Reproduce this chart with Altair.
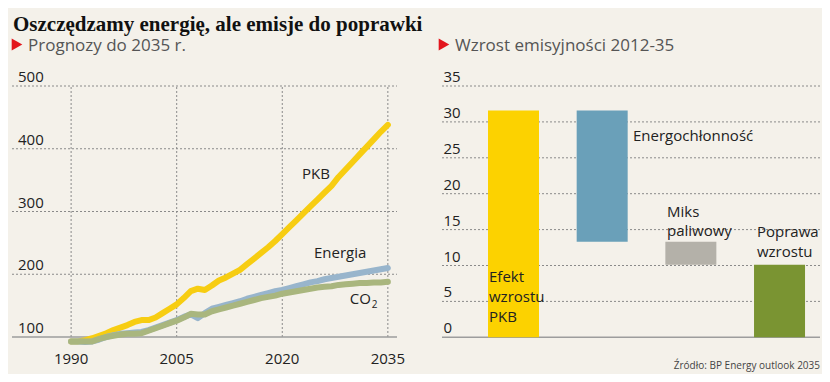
import altair as alt
import pandas as pd

# ---------------- data ----------------
years = list(range(1990, 2036))
pkb = [93, 93, 95, 98, 102, 106, 111, 115, 119, 124,
       127, 127, 131, 138, 145, 152, 162, 173, 177, 175,
       182, 190, 195, 201, 207, 216, 225, 234, 243, 253,
       264, 275, 286, 297, 308, 319, 330, 341, 355, 367,
       379, 391, 403, 415, 427, 438]
energia = [93, 93, 92, 93, 96, 100, 103, 105, 106, 107,
           108, 111, 115, 119, 123, 127, 132, 136, 130, 138,
           145, 148, 151, 154, 157, 161, 164, 167, 170, 173,
           175, 178, 181, 184, 187, 189, 192, 194, 196, 198,
           200, 202, 204, 206, 208, 210]
co2 = [93, 93, 93, 93, 97, 100, 102, 104, 105, 105,
       106, 110, 114, 118, 122, 126, 131, 137, 136, 136,
       141, 144, 147, 150, 153, 156, 159, 162, 164, 166,
       169, 171, 173, 175, 177, 179, 180, 181, 183, 184,
       185, 186, 186, 187, 187, 188]

left_y_ticks = [100, 200, 300, 400, 500]
left_x_ticks = [1990, 2005, 2020, 2035]

bar_names = ["Efekt wzrostu PKB", "Energochłonność", "Miks paliwowy", "Poprawa wzrostu"]
bar_idx = [1, 2, 3, 4]
bar_start = [0, 31.6, 13.3, 0]
bar_end = [31.6, 13.3, 10.1, 10.1]
bar_colors = ["#fcd200", "#6aa0b9", "#b4b1a9", "#7a9432"]

right_y_ticks = [0, 5, 10, 15, 20, 25, 30, 35]

FONT = "Open Sans"
GRID = "#8a8a8a"
BASE = "#9d9d9d"

# ---------------- scales ----------------
xL = alt.Scale(domain=[1981.6, 2036.3], range=[4, 389], nice=False, zero=False)
yL = alt.Scale(domain=[100, 500], range=[329, 78], nice=False, zero=False)
xR = alt.Scale(domain=[0.25, 4.4], range=[434, 812], nice=False, zero=False)
yR = alt.Scale(domain=[0, 35], range=[329.3, 78], nice=False, zero=False)

df_lines = pd.DataFrame({"year": years, "pkb": pkb, "energia": energia, "co2": co2})
df_ly = pd.DataFrame({"v": left_y_ticks})
df_lgrid = pd.DataFrame({"v": left_y_ticks[1:]})
df_lx = pd.DataFrame({"year": left_x_ticks})
df_bars = pd.DataFrame({"name": bar_names, "idx": bar_idx, "start": bar_start, "end": bar_end})
df_ry = pd.DataFrame({"v": right_y_ticks})
df_rgrid = pd.DataFrame({"v": right_y_ticks[1:]})
one = pd.DataFrame({"a": [0]})

layers = []

# ---------- left chart ----------
layers.append(alt.Chart(df_lgrid).mark_rule(color=GRID, strokeDash=[2, 2], strokeWidth=1).encode(
    y=alt.Y("v:Q", scale=yL, axis=None),
    x=alt.XDatum(1981.6, scale=xL, type="quantitative", axis=None),
    x2=alt.X2Datum(2036.3)))
layers.append(alt.Chart(df_lx).mark_rule(color=GRID, strokeDash=[2, 2], strokeWidth=1).encode(
    x=alt.X("year:Q", scale=xL, axis=None),
    y=alt.YDatum(100, scale=yL, type="quantitative", axis=None),
    y2=alt.Y2Datum(500)))
layers.append(alt.Chart(one).mark_rule(color=BASE, strokeWidth=1.5).encode(
    y=alt.YDatum(100, scale=yL, type="quantitative", axis=None),
    x=alt.XDatum(1981.6, scale=xL, type="quantitative", axis=None),
    x2=alt.X2Datum(2036.3)))

for col, colr in [("pkb", "#f7cd12"), ("energia", "#98b5cc"), ("co2", "#a9b67e")]:
    layers.append(alt.Chart(df_lines).mark_line(color=colr, strokeWidth=6, strokeCap="round",
                                                 strokeJoin="round").encode(
        x=alt.X("year:Q", scale=xL, axis=None),
        y=alt.Y(f"{col}:Q", scale=yL, axis=None)))

layers.append(alt.Chart(df_ly).mark_text(align="left", baseline="alphabetic", dy=-4, font=FONT,
                                          fontSize=15, color="#222").encode(
    x=alt.value(10), y=alt.Y("v:Q", scale=yL, axis=None), text="v:Q"))
layers.append(alt.Chart(df_lx).mark_text(align="center", baseline="alphabetic", font=FONT,
                                          fontSize=15, color="#222").encode(
    x=alt.X("year:Q", scale=xL, axis=None), y=alt.value(356), text="year:Q"))


def ltext(txt, xv, yv, **kw):
    return alt.Chart(one).mark_text(text=txt, align="left", baseline="alphabetic", font=FONT,
                                     fontSize=kw.pop("fontSize", 15), color="#222", **kw).encode(
        x=alt.XDatum(xv, scale=xL, type="quantitative", axis=None),
        y=alt.YDatum(yv, scale=yL, type="quantitative", axis=None))


layers.append(ltext("PKB", 2022.8, 352))
layers.append(ltext("Energia", 2024.5, 226))
layers.append(ltext("CO", 2029.6, 153))
layers.append(ltext("2", 2029.6, 153, dx=22, dy=4, fontSize=10))

# ---------- right chart ----------
layers.append(alt.Chart(df_rgrid).mark_rule(color=GRID, strokeDash=[2, 2], strokeWidth=1).encode(
    y=alt.Y("v:Q", scale=yR, axis=None),
    x=alt.XDatum(0.25, scale=xR, type="quantitative", axis=None),
    x2=alt.X2Datum(4.4)))
layers.append(alt.Chart(one).mark_rule(color=BASE, strokeWidth=1.5).encode(
    y=alt.YDatum(0, scale=yR, type="quantitative", axis=None),
    x=alt.XDatum(0.25, scale=xR, type="quantitative", axis=None),
    x2=alt.X2Datum(4.4)))
layers.append(alt.Chart(df_bars).mark_bar(size=51).encode(
    x=alt.X("idx:Q", scale=xR, axis=None),
    y=alt.Y("start:Q", scale=yR, axis=None),
    y2="end:Q",
    color=alt.Color("name:N", scale=alt.Scale(domain=bar_names, range=bar_colors), legend=None)))
layers.append(alt.Chart(df_ry).mark_text(align="left", baseline="alphabetic", dy=-4, font=FONT,
                                          fontSize=15, color="#222").encode(
    x=alt.value(435.5), y=alt.Y("v:Q", scale=yR, axis=None), text="v:Q"))


def rtext(txt, xv, yv, lh=19.8):
    return alt.Chart(one).mark_text(text=txt, align="left", baseline="alphabetic", font=FONT,
                                     fontSize=15, color="#222", lineHeight=lh).encode(
        x=alt.XDatum(xv, scale=xR, type="quantitative", axis=None),
        y=alt.YDatum(yv, scale=yR, type="quantitative", axis=None))


layers.append(rtext("Energochłonność", 2.347, 27.4))
layers.append(rtext(["Miks", "paliwowy"], 2.72, 16.8))
layers.append(rtext(["Poprawa", "wzrostu"], 3.708, 14.0, lh=20))
layers.append(rtext(["Efekt", "wzrostu", "PKB"], 0.766, 7.7))

# ---------- titles ----------
layers.append(alt.Chart(one).mark_text(text="Oszczędzamy energię, ale emisje do poprawki", align="left",
                                        baseline="alphabetic", font="Liberation Serif", fontWeight="bold",
                                        fontSize=21, color="#111").encode(
    x=alt.value(5), y=alt.value(23)))
for tx, title in [(20, "Prognozy do 2035 r."), (447, "Wzrost emisyjności 2012-35")]:
    layers.append(alt.Chart(one).mark_point(shape="triangle-right", filled=True, size=150,
                                             color="#e3161d", opacity=1).encode(
        x=alt.value(tx - 11), y=alt.value(36.5)))
    layers.append(alt.Chart(one).mark_text(text=title, align="left", baseline="alphabetic", font=FONT,
                                            fontSize=17, color="#555").encode(
        x=alt.value(tx), y=alt.value(42.5)))

layers.append(alt.Chart(one).mark_text(text="Źródło: BP Energy outlook 2035", align="right",
                                        baseline="alphabetic", font=FONT, fontSize=10,
                                        color="#444").encode(
    x=alt.value(812), y=alt.value(361)))

chart = alt.layer(*layers).resolve_scale(x="independent", y="independent", color="independent").properties(
    width=814, height=366, padding=0,
    autosize=alt.AutoSizeParams(type="none"),
    background="#f4f1ea",
).configure_view(stroke=None)

chart.save("out.html", embed_options={"renderer": "svg", "actions": False})
